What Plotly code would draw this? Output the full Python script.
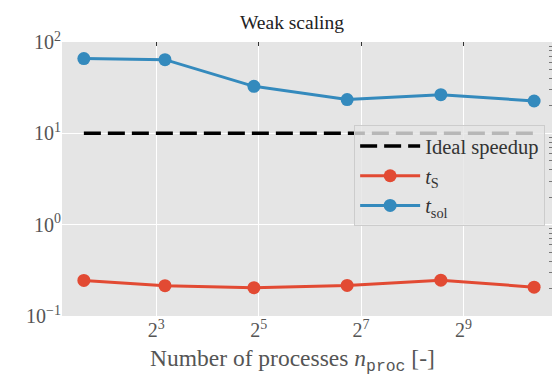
import math
import plotly.graph_objects as go

# Weak-scaling measurements
n_proc = [3, 9, 30, 106, 377, 1333]
t_s = [0.245, 0.215, 0.204, 0.216, 0.247, 0.207]
t_sol = [65.8, 64.1, 32.7, 23.4, 26.5, 22.6]
ideal_level = [10, 10, 10, 10, 10, 10]

x_tickvals = [8, 32, 128, 512]
x_ticktext = ["2<sup>3</sup>", "2<sup>5</sup>", "2<sup>7</sup>", "2<sup>9</sup>"]
y_tickvals = [0.1, 1, 10, 100]
y_ticktext = ["10<sup>−1</sup>", "10<sup>0</sup>", "10<sup>1</sup>", "10<sup>2</sup>"]

SERIF = "Liberation Serif"
BG = "#E5E5E5"
RED = "#E24A33"
BLUE = "#348ABD"

x_range = [1.158 * math.log10(2), 10.73 * math.log10(2)]
y_range = [-1, 2]

fig = go.Figure()

fig.add_trace(go.Scatter(
    x=n_proc, y=ideal_level, mode="lines", name="Ideal speedup", legendgroup="a",
    line=dict(color="black", width=3.5, dash="17px,7px"),
))
fig.add_trace(go.Scatter(
    x=n_proc, y=t_s, mode="lines+markers", name="<i>t</i><sub>S</sub>", legendgroup="b",
    line=dict(color=RED, width=3), marker=dict(size=13, color=RED),
))
fig.add_trace(go.Scatter(
    x=n_proc, y=t_sol, mode="lines+markers", name="<i>t</i><sub>sol</sub>", legendgroup="c",
    line=dict(color=BLUE, width=3), marker=dict(size=13, color=BLUE),
))
# carrier trace for the top / right tick axes
fig.add_trace(go.Scatter(
    x=[n_proc[0]], y=[t_sol[0]], xaxis="x2", yaxis="y2", mode="markers",
    marker=dict(opacity=0), showlegend=False, hoverinfo="skip",
))

minor_y = [m * 10 ** e for e in (-1, 0, 1) for m in range(2, 10)]

fig.update_layout(
    width=552, height=376,
    margin=dict(l=62, r=0, t=42, b=60),
    paper_bgcolor="white", plot_bgcolor=BG,
    font=dict(family=SERIF, size=20, color="#555555"),
    showlegend=True,
    xaxis=dict(
        type="log", range=x_range, tickmode="array",
        tickvals=x_tickvals, ticktext=x_ticktext,
        showgrid=True, gridcolor="white", gridwidth=1.2,
        zeroline=False, showline=False, ticks="",
        tickfont=dict(family=SERIF, size=20, color="#555555"),
    ),
    yaxis=dict(
        type="log", range=y_range, tickmode="array",
        tickvals=y_tickvals, ticktext=y_ticktext,
        showgrid=True, gridcolor="white", gridwidth=1.2,
        zeroline=False, showline=False, ticks="",
        tickfont=dict(family=SERIF, size=20, color="#555555"),
    ),
    xaxis2=dict(
        type="log", range=x_range, overlaying="x", side="top", anchor="y2",
        tickmode="array", tickvals=x_tickvals, showticklabels=False,
        ticks="inside", ticklen=4, tickwidth=1, tickcolor="#333333",
        showgrid=False, zeroline=False, showline=False,
    ),
    yaxis2=dict(
        type="log", range=y_range, overlaying="y", side="right", anchor="x2",
        tickmode="array", tickvals=minor_y, showticklabels=False,
        ticks="inside", ticklen=3, tickwidth=1, tickcolor="#777777",
        showgrid=False, zeroline=False, showline=False,
    ),
    legend=dict(
        x=0.986, xanchor="right", y=0.696, yanchor="top",
        bgcolor="rgba(229,229,229,0.8)", bordercolor="#CCCCCC", borderwidth=1,
        font=dict(family=SERIF, size=20.5, color="#333333"),
        itemwidth=60, tracegroupgap=0,
    ),
    annotations=[
        dict(text="Weak scaling", x=(292 - 62) / 490, y=1, xref="paper", yref="paper",
             yanchor="bottom", yshift=7, xanchor="center", showarrow=False,
             font=dict(family=SERIF, size=19.5, color="#222222")),
        dict(text='Number of processes <i>n</i><sub><span style="font-family:Liberation Mono">proc</span></sub> [-]',
             x=(292 - 62) / 490, y=0, xref="paper", yref="paper",
             yanchor="top", yshift=-27, xanchor="center", showarrow=False,
             font=dict(family=SERIF, size=23.5, color="#555555")),
    ],
)

fig.write_html("out.html")
